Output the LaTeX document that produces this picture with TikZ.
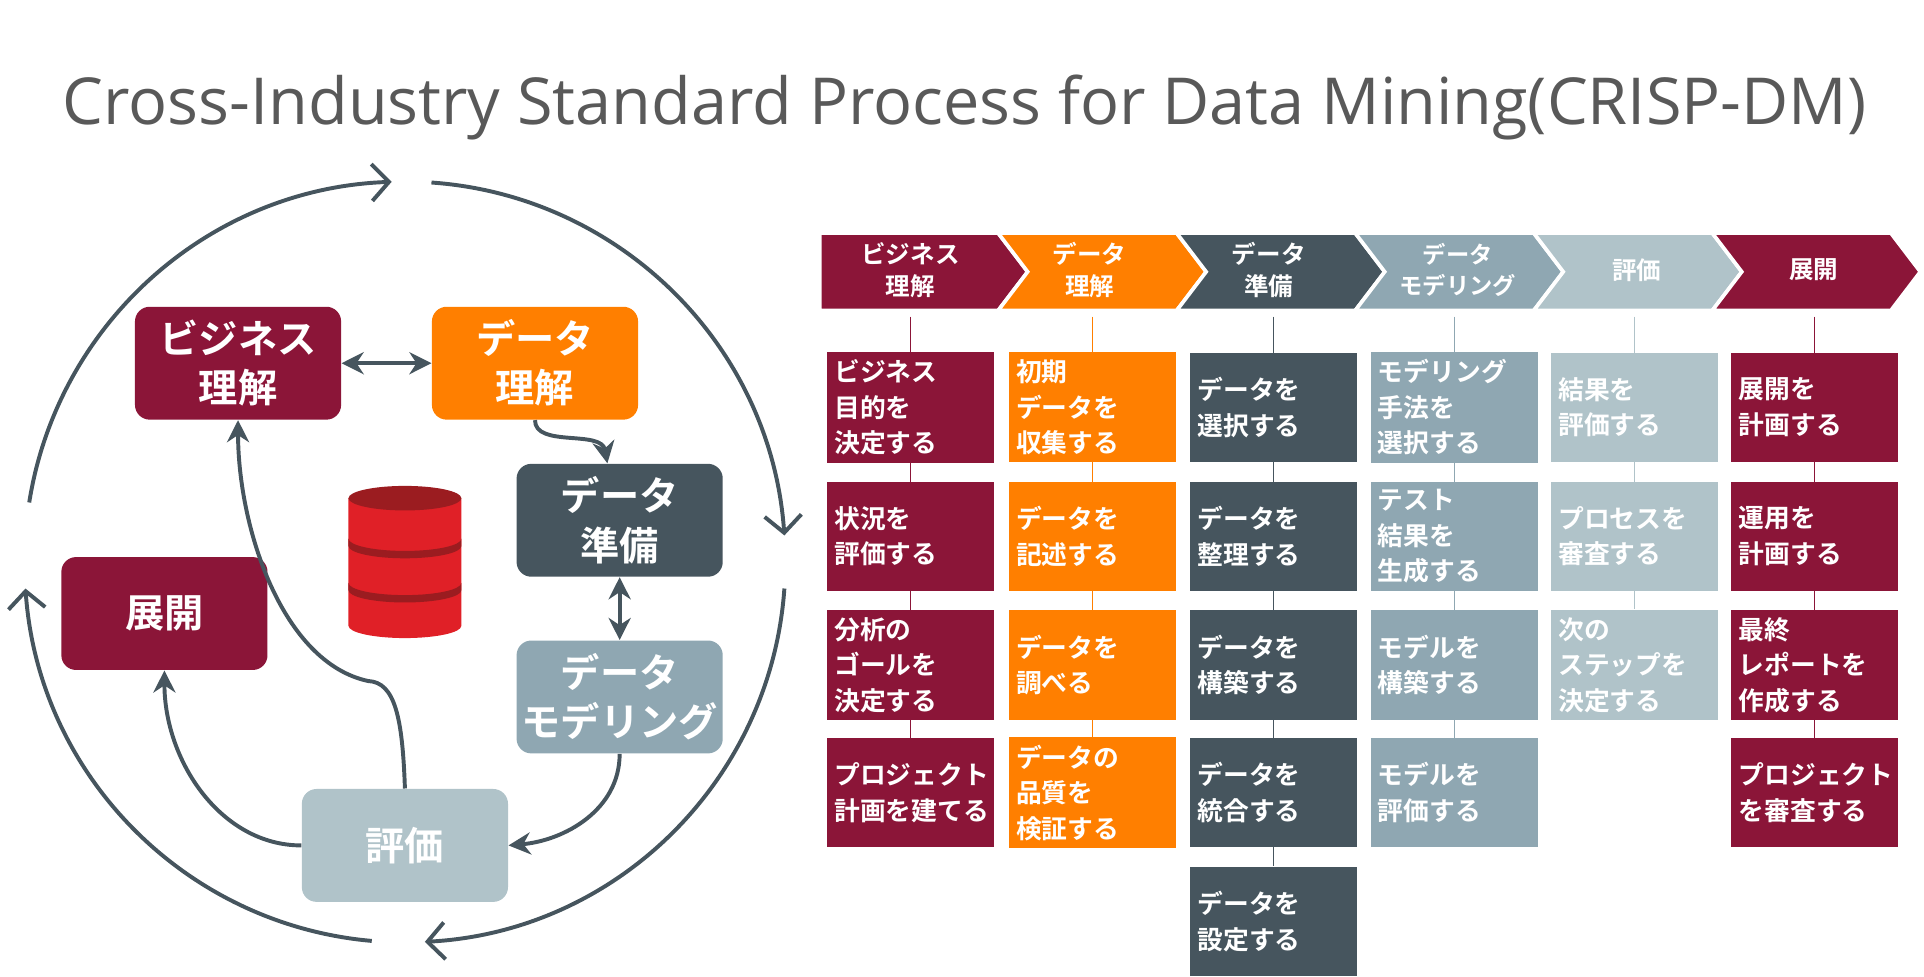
\documentclass[tikz,border=0pt]{standalone}
\usepackage{fontspec}
\setmainfont{Open Sans}
\newfontfamily\jp{Noto Sans CJK JP}[BoldFont={Noto Sans CJK JP Bold}]
\usepackage{tikz}
\usetikzlibrary{positioning, arrows.meta, backgrounds}
\definecolor{vino}{RGB}{139, 21, 56}
\definecolor{naranja}{RGB}{255, 127, 0}
\definecolor{pizarra}{RGB}{70, 85, 94}
\definecolor{azulgris}{RGB}{143, 167, 178}
\definecolor{celeste}{RGB}{176, 195, 201}
\definecolor{titulo}{RGB}{89, 89, 89}
\definecolor{rojo}{RGB}{224, 32, 39}
\definecolor{rojoosc}{RGB}{155, 28, 32}
\tikzset{
  fase/.style={fill=#1, rounded corners=6pt, minimum width=84pt, minimum height=46pt,
    inner sep=0pt, align=center, text=white, font=\jp\bfseries\fontsize{16}{20}\selectfont},
  flecha/.style={draw=pizarra, line width=1.6pt, -{Stealth[length=9pt,width=9pt]}},
  doble/.style={draw=pizarra, line width=1.6pt, {Stealth[length=9pt,width=9pt]}-{Stealth[length=9pt,width=9pt]}},
  ciclo/.style={draw=pizarra, line width=1.6pt, -{Straight Barb[length=7pt,width=15pt,line width=1.6pt]}},
  celda/.style={fill=#1, minimum width=68pt, minimum height=44.5pt, inner sep=3pt,
    text width=62pt, align=left, text=white, font=\jp\bfseries\fontsize{10.5}{14.5}\selectfont},
  cab/.style={text=white, align=center, font=\jp\bfseries\fontsize{10}{13}\selectfont},
}
\begin{document}
\begin{tikzpicture}[x=0.5pt, y=-0.5pt]
  \useasboundingbox (0,0) rectangle (1568,796);

  % Titulo
  \node[text=titulo, font=\fontsize{26.4}{32}\selectfont] (tit) at (786,88) {Cross-Industry Standard Process for Data Mining(CRISP-DM)};

  % Ciclo exterior
  \coordinate (o) at (330,458);
  \draw[ciclo] (o) ++(-171:310) arc[start angle=-171, end angle=-92, radius=310];
  \draw[ciclo] (o) ++(-86:310) arc[start angle=-86, end angle=-4, radius=310];
  \draw[ciclo] (o) ++(4:310) arc[start angle=4, end angle=87, radius=310];
  \draw[ciclo] (o) ++(95:310) arc[start angle=95, end angle=176, radius=310];

  % Fases
  \node[fase=vino] (bn) at (194,296) {ビジネス\\理解};
  \node[fase=naranja] (dt) at (436,296) {データ\\理解};
  \node[fase=pizarra] (dp) at (505,424) {データ\\準備};
  \node[fase=azulgris] (dm) at (505,568) {データ\\モデリング};
  \node[fase=celeste] (ev) at (330,689) {評価};
  \node[fase=vino] (de) at (134,500) {展開};

  % Flechas
  \draw[doble] (bn) -- (dt);
  \draw[flecha] (dt.south) .. controls (436,365) and (490,350) .. ([xshift=-5pt]dp.north);
  \draw[doble] (dp) -- (dm);
  \draw[flecha] (dm.south) .. controls (505,660) and (460,685) .. (ev.east);
  \draw[flecha] (ev.west) .. controls (180,689) and (134,620) .. (de.south);
  \draw[flecha] (ev.north) .. controls (328,585) and (322,556) .. (300,555)
    .. controls (230,540) and (194,430) .. (bn.south);

  % Base de datos
  \fill[rojo] (284,406) -- (284,510) arc[start angle=180, end angle=0, x radius=46, y radius=10] -- (376,406) -- cycle;
  \fill[rojoosc] (284,439) arc[start angle=180, end angle=0, x radius=46, y radius=10] -- (376,445) arc[start angle=0, end angle=180, x radius=46, y radius=10] -- cycle;
  \fill[rojoosc] (284,475) arc[start angle=180, end angle=0, x radius=46, y radius=10] -- (376,481) arc[start angle=0, end angle=180, x radius=46, y radius=10] -- cycle;
  \fill[rojoosc] (330,406) circle[x radius=46, y radius=10];

  % Cabeceras
  \foreach \i/\col in {1/vino,2/naranja,3/pizarra,4/azulgris,5/celeste,6/vino} {
    \pgfmathsetmacro{\xa}{668+145.5*(\i-1)}
    \fill[\col, draw=white, line width=1.5pt] (\xa,190) -- (\xa+145.5,190) -- (\xa+169.5,221.5)
      -- (\xa+145.5,253) -- (\xa,253) \ifnum\i>1 -- (\xa+24,221.5) \fi -- cycle;
  }
  \node[cab] (h1) at (742,220) {ビジネス\\理解};
  \node[cab] (h2) at (888,220) {データ\\理解};
  \node[cab] (h3) at (1034,220) {データ\\準備};
  \node[cab, font=\jp\bfseries\fontsize{9.5}{13}\selectfont] (h4) at (1188,220) {データ\\モデリング};
  \node[cab] (h5) at (1334,220) {評価};
  \node[cab] (h6) at (1478,220) {展開};

  % Tareas
  \node[celda=vino] (c11) at (742,332) {ビジネス\\目的を\\決定する};
  \node[celda=vino] (c12) at (742,437) {状況を\\評価する};
  \node[celda=vino] (c13) at (742,542) {分析の\\ゴールを\\決定する};
  \node[celda=vino] (c14) at (742,646) {プロジェクト\\計画を建てる};

  \node[celda=naranja] (c21) at (890,332) {初期\\データを\\収集する};
  \node[celda=naranja] (c22) at (890,437) {データを\\記述する};
  \node[celda=naranja] (c23) at (890,542) {データを\\調べる};
  \node[celda=naranja] (c24) at (890,646) {データの\\品質を\\検証する};

  \node[celda=pizarra] (c31) at (1038,332) {データを\\選択する};
  \node[celda=pizarra] (c32) at (1038,437) {データを\\整理する};
  \node[celda=pizarra] (c33) at (1038,542) {データを\\構築する};
  \node[celda=pizarra] (c34) at (1038,646) {データを\\統合する};
  \node[celda=pizarra] (c35) at (1038,751) {データを\\設定する};

  \node[celda=azulgris] (c41) at (1185,332) {モデリング\\手法を\\選択する};
  \node[celda=azulgris] (c42) at (1185,437) {テスト\\結果を\\生成する};
  \node[celda=azulgris] (c43) at (1185,542) {モデルを\\構築する};
  \node[celda=azulgris] (c44) at (1185,646) {モデルを\\評価する};

  \node[celda=celeste] (c51) at (1332,332) {結果を\\評価する};
  \node[celda=celeste] (c52) at (1332,437) {プロセスを\\審査する};
  \node[celda=celeste] (c53) at (1332,542) {次の\\ステップを\\決定する};

  \node[celda=vino] (c61) at (1479,332) {展開を\\計画する};
  \node[celda=vino] (c62) at (1479,437) {運用を\\計画する};
  \node[celda=vino] (c63) at (1479,542) {最終\\レポートを\\作成する};
  \node[celda=vino] (c64) at (1479,646) {プロジェクト\\を審査する};

  % Lineas verticales
  \begin{scope}[on background layer, line width=1.2pt]
    \draw[vino] (742,258) coordinate (v1) -- (c14);
    \draw[naranja] (890,258) coordinate (v2) -- (c24);
    \draw[pizarra] (1038,258) coordinate (v3) -- (c35);
    \draw[azulgris] (1185,258) coordinate (v4) -- (c44);
    \draw[celeste] (1332,258) coordinate (v5) -- (c53);
    \draw[vino] (1479,258) coordinate (v6) -- (c64);
  \end{scope}
\end{tikzpicture}
\end{document}
